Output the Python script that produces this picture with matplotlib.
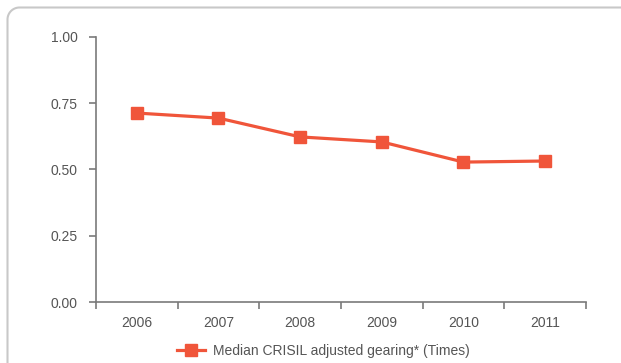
import matplotlib
matplotlib.use('Agg')
import matplotlib.pyplot as plt
from matplotlib.lines import Line2D
import numpy as np

plt.rcParams['font.family'] = ['Liberation Sans', 'DejaVu Sans']

years = ['2006', '2007', '2008', '2009', '2010', '2011']
gearing = [0.713, 0.694, 0.623, 0.604, 0.528, 0.532]
yticks = [0.00, 0.25, 0.50, 0.75, 1.00]

line_col = '#f0553a'
axis_col = '#7a7a7a'
text_col = '#555555'

W, H, DPI = 621, 363, 100
fig = plt.figure(figsize=(W / DPI, H / DPI), dpi=DPI)

# frame with a rounded top-left corner, open to the right and bottom (pixels)
r = 12.0
x0, y0 = 7.5, H - 7.5
t = np.linspace(np.pi, np.pi / 2, 20)
fx = np.concatenate([[x0], x0 + r + r * np.cos(t), [W + 10]])
fy = np.concatenate([[-10], y0 - r + r * np.sin(t), [y0]])
fig.lines.append(Line2D(fx / DPI, fy / DPI, transform=fig.dpi_scale_trans,
                        color='#c8c8c8', linewidth=1.5))

ax = fig.add_axes([96 / W, 61 / H, 490 / W, 265 / H])
x = np.arange(len(years))
ax.plot(x, gearing, color=line_col, linewidth=2.3, marker='s',
        markersize=8.5, label='Median CRISIL adjusted gearing* (Times)',
        clip_on=False)

ax.set_xlim(-0.5, len(years) - 0.5)
ax.set_ylim(0, 1)
ax.set_yticks(yticks)
ax.set_yticklabels(['%.2f' % v for v in yticks])

# tick marks between categories, labels at the centres
ax.set_xticks(np.arange(-0.5, len(years), 1.0))
ax.set_xticklabels([])
ax.set_xticks(x, minor=True)
ax.set_xticklabels(years, minor=True)
ax.tick_params(axis='x', which='major', length=5, width=1.2, color=axis_col)
ax.tick_params(axis='x', which='minor', length=0, pad=10,
               labelsize=10, labelcolor=text_col)
ax.tick_params(axis='y', length=5, width=1.2, color=axis_col, pad=8,
               labelsize=10, labelcolor=text_col)

for s in ['top', 'right']:
    ax.spines[s].set_visible(False)
for s in ['left', 'bottom']:
    ax.spines[s].set_color(axis_col)
    ax.spines[s].set_linewidth(1.2)

fig.legend(loc='center', bbox_to_anchor=(0.521, 0.033), frameon=False,
           fontsize=10, labelcolor=text_col, handlelength=2.0,
           handletextpad=0.6)

fig.savefig('out.png', dpi=DPI)
